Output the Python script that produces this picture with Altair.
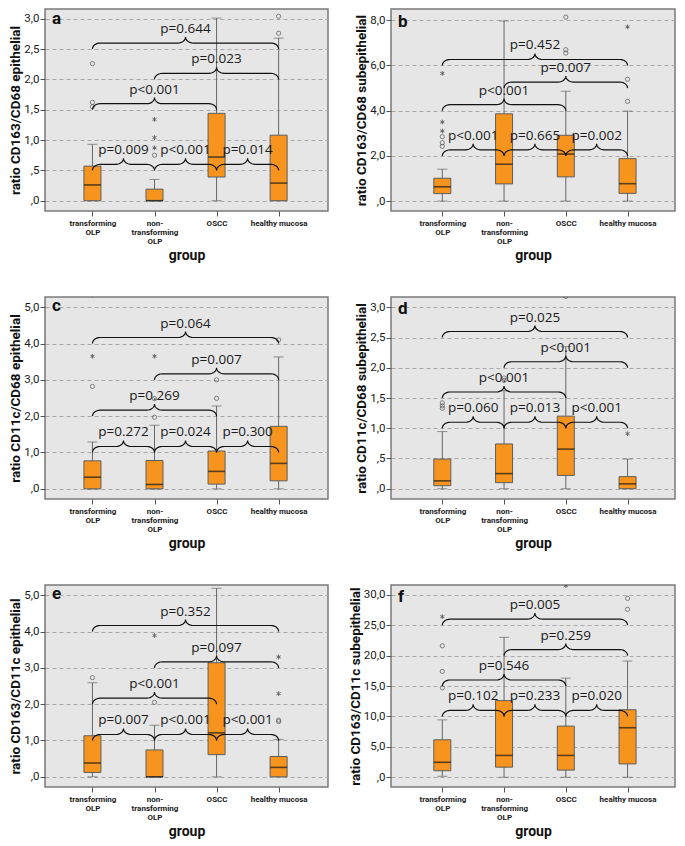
import math
import altair as alt
import pandas as pd

# ---------------- shared categories ----------------
groups = ["transforming OLP", "non-transforming OLP", "OSCC", "healthy mucosa"]
group_label_lines = [["transforming", "OLP"], ["non-", "transforming", "OLP"], ["OSCC"], ["healthy mucosa"]]
group_pos = [0, 1, 2, 3]
x_title = "group"

# ---------------- panel a ----------------
a_letter = "a"
a_title = "ratio CD163/CD68 epithelial"
a_low = [0.0, 0.0, 0.0, 0.0]
a_q1 = [0.0, 0.0, 0.39, 0.0]
a_med = [0.26, 0.0, 0.72, 0.29]
a_q3 = [0.57, 0.19, 1.44, 1.08]
a_high = [0.93, 0.35, 3.01, 2.68]
a_circle_g = [0, 0, 0, 1, 3, 3]
a_circle_v = [2.26, 1.62, 1.55, 0.75, 3.04, 2.76]
a_star_g = [1, 1, 1]
a_star_v = [1.34, 1.04, 0.87]
a_br_from = [0, 1, 0, 0, 1, 2]
a_br_to = [3, 3, 2, 1, 2, 3]
a_br_y = [2.5, 2.0, 1.5, 0.5, 0.5, 0.5]
a_br_p = ["p=0.644", "p=0.023", "p<0.001", "p=0.009", "p<0.001", "p=0.014"]
a_ticks = [0, 0.5, 1.0, 1.5, 2.0, 2.5, 3.0]

# ---------------- panel b ----------------
b_letter = "b"
b_title = "ratio CD163/CD68 subepithelial"
b_low = [0.0, 0.0, 0.0, 0.0]
b_q1 = [0.33, 0.76, 1.07, 0.34]
b_med = [0.63, 1.63, 2.08, 0.77]
b_q3 = [1.01, 3.86, 2.91, 1.88]
b_high = [1.41, 7.97, 4.86, 3.98]
b_circle_g = [0, 0, 0, 2, 2, 2, 3, 3]
b_circle_v = [2.85, 2.58, 2.42, 8.14, 6.7, 6.55, 5.39, 4.41]
b_star_g = [0, 0, 0, 3]
b_star_v = [5.65, 3.5, 3.1, 7.71]
b_br_from = [0, 1, 0, 0, 1, 2]
b_br_to = [3, 3, 2, 1, 2, 3]
b_br_y = [6.0, 5.0, 4.0, 2.0, 2.0, 2.0]
b_br_p = ["p=0.452", "p=0.007", "p<0.001", "p<0.001", "p=0.665", "p=0.002"]
b_ticks = [0, 2, 4, 6, 8]

# ---------------- panel c ----------------
c_letter = "c"
c_title = "ratio CD11c/CD68 epithelial"
c_low = [0.0, 0.0, 0.0, 0.0]
c_q1 = [0.0, 0.0, 0.13, 0.22]
c_med = [0.32, 0.12, 0.48, 0.70]
c_q3 = [0.77, 0.78, 1.04, 1.72]
c_high = [1.29, 1.75, 2.28, 3.63]
c_circle_g = [0, 1, 1, 2, 2, 3]
c_circle_v = [2.82, 2.48, 1.97, 3.0, 2.49, 4.1]
c_star_g = [0, 0, 1]
c_star_v = [5.33, 3.65, 3.65]
c_br_from = [0, 1, 0, 0, 1, 2]
c_br_to = [3, 3, 2, 1, 2, 3]
c_br_y = [4.0, 3.0, 2.0, 1.0, 1.0, 1.0]
c_br_p = ["p=0.064", "p=0.007", "p=0.269", "p=0.272", "p=0.024", "p=0.300"]
c_ticks = [0, 1, 2, 3, 4, 5]

# ---------------- panel d ----------------
d_letter = "d"
d_title = "ratio CD11c/CD68 subepithelial"
d_low = [0.0, 0.0, 0.0, 0.0]
d_q1 = [0.05, 0.10, 0.22, 0.0]
d_med = [0.13, 0.25, 0.655, 0.08]
d_q3 = [0.49, 0.74, 1.20, 0.20]
d_high = [0.945, 1.62, 2.35, 0.49]
d_circle_g = [0, 0, 0, 1, 1, 2]
d_circle_v = [1.42, 1.37, 1.33, 1.83, 1.79, 3.18]
d_star_g = [3]
d_star_v = [0.91]
d_br_from = [0, 1, 0, 0, 1, 2]
d_br_to = [3, 3, 2, 1, 2, 3]
d_br_y = [2.5, 2.0, 1.5, 1.0, 1.0, 1.0]
d_br_p = ["p=0.025", "p<0.001", "p<0.001", "p=0.060", "p=0.013", "p<0.001"]
d_ticks = [0, 0.5, 1.0, 1.5, 2.0, 2.5, 3.0]

# ---------------- panel e ----------------
e_letter = "e"
e_title = "ratio CD163/CD11c epithelial"
e_low = [0.0, 0.0, 0.0, 0.0]
e_q1 = [0.12, 0.0, 0.61, 0.0]
e_med = [0.38, 0.0, 1.21, 0.26]
e_q3 = [1.13, 0.74, 3.14, 0.56]
e_high = [2.59, 1.42, 5.19, 1.03]
e_circle_g = [0, 1, 3, 3]
e_circle_v = [2.73, 2.05, 1.56, 1.52]
e_star_g = [1, 3, 3]
e_star_v = [3.89, 3.30, 2.29]
e_br_from = [0, 1, 0, 0, 1, 2]
e_br_to = [3, 3, 2, 1, 2, 3]
e_br_y = [4.0, 3.0, 2.0, 1.0, 1.0, 1.0]
e_br_p = ["p=0.352", "p=0.097", "p<0.001", "p=0.007", "p<0.001", "p<0.001"]
e_ticks = [0, 1, 2, 3, 4, 5]

# ---------------- panel f ----------------
f_letter = "f"
f_title = "ratio CD163/CD11c subepithelial"
f_low = [0.16, 0.0, 0.0, 0.0]
f_q1 = [1.07, 1.66, 1.18, 2.2]
f_med = [2.46, 3.59, 3.59, 8.14]
f_q3 = [6.16, 12.6, 8.41, 11.1]
f_high = [9.43, 23.0, 16.3, 19.1]
f_circle_g = [0, 0, 0, 3, 3]
f_circle_v = [21.6, 17.4, 14.7, 29.4, 27.6]
f_star_g = [0, 2]
f_star_v = [26.4, 31.5]
f_br_from = [0, 1, 0, 0, 1, 2]
f_br_to = [3, 3, 2, 1, 2, 3]
f_br_y = [25, 20, 15, 10, 10, 10]
f_br_p = ["p=0.005", "p=0.259", "p=0.546", "p=0.102", "p=0.233", "p=0.020"]
f_ticks = [0, 5, 10, 15, 20, 25, 30]

# ---------------- styling ----------------
BOX_FILL = "#F7941E"
BOX_STROKE = "#5e5e5e"
WHISKER = "#666666"
STAR = "M0,-1L0,1M-0.87,-0.5L0.87,0.5M-0.87,0.5L0.87,-0.5"

Y_LABEL_EXPR = ("datum.value < 1 ? replace(format(datum.value, '.1f'), '0.', ',') "
                ": replace(format(datum.value, '.1f'), '.', ',')")
X_LABEL_EXPR = "[" + ",".join("[" + ",".join("'" + s + "'" for s in lines) + "]"
                              for lines in group_label_lines) + "][datum.value]"


def panel(letter, ytitle, low, q1, med, q3, high, cg, cv, sg, sv,
          bf, bt, by, bp, ticks, ydom, xdom, width, height, letter_y):
    xs = alt.Scale(domain=xdom, nice=False, zero=False)
    ys = alt.Scale(domain=ydom, nice=False, zero=False)
    xax = alt.Axis(values=group_pos, labelExpr=X_LABEL_EXPR, labelOverlap=False,
                   labelFlush=False, grid=False)
    yax = alt.Axis(values=ticks, labelExpr=Y_LABEL_EXPR, labelOverlap=False,
                   labelFlush=False, grid=True)

    def X(f):
        return alt.X(f, type="quantitative", scale=xs, axis=xax, title=x_title)

    def Y(f):
        return alt.Y(f, type="quantitative", scale=ys, axis=yax, title=ytitle)

    box = pd.DataFrame({"g": group_pos, "low": low, "q1": q1, "med": med,
                        "q3": q3, "high": high})
    caps = pd.DataFrame({"g": group_pos * 2, "v": list(low) + list(high)})
    circ = pd.DataFrame({"g": cg, "v": cv})
    star = pd.DataFrame({"g": sg, "v": sv})

    # brace outlines, generated from (from, to, level) in data units
    kx = (xdom[1] - xdom[0]) / width
    ky = (ydom[1] - ydom[0]) / height
    rx, ry, n = 8.0, 6.0, 8
    rows = []
    for bid, (i, j, yv) in enumerate(zip(bf, bt, by)):
        xm = (i + j) / 2.0
        pts = []
        ts = [k * (math.pi / 2) / (n - 1) for k in range(n)]
        for t in ts:
            pts.append((i + rx * kx * (1 - math.cos(t)), yv + ry * ky * math.sin(t)))
        for t in ts:
            pts.append((xm - rx * kx + rx * kx * math.sin(t),
                        yv + ry * ky + ry * ky * (1 - math.cos(t))))
        for t in reversed(ts):
            pts.append((xm + rx * kx - rx * kx * math.sin(t),
                        yv + ry * ky + ry * ky * (1 - math.cos(t))))
        for t in reversed(ts):
            pts.append((j - rx * kx * (1 - math.cos(t)), yv + ry * ky * math.sin(t)))
        for k, (px, py) in enumerate(pts):
            rows.append({"id": bid, "k": k, "x": px, "y": py})
    braces = pd.DataFrame(rows)
    ptext = pd.DataFrame({"xm": [(i + j) / 2.0 for i, j in zip(bf, bt)], "y": by, "p": bp})
    lett = pd.DataFrame({"t": [letter]})

    whisk = alt.Chart(box).mark_rule(color=WHISKER, strokeWidth=1).encode(
        x=X("g"), y=Y("low"), y2="high")
    capl = alt.Chart(caps).mark_tick(orient="horizontal", size=10, thickness=1,
                                     color=WHISKER).encode(x=X("g"), y=Y("v"))
    bars = alt.Chart(box).mark_bar(size=17, color=BOX_FILL, stroke=BOX_STROKE,
                                   strokeWidth=1).encode(x=X("g"), y=Y("q1"), y2="q3")
    meds = alt.Chart(box).mark_tick(orient="horizontal", size=17, thickness=1.6,
                                    color="#1a1a1a").encode(x=X("g"), y=Y("med"))
    layers = [whisk, capl, bars, meds]
    if len(cg):
        layers.append(alt.Chart(circ).mark_point(shape="circle", filled=False, size=18,
                                                 color="#444444", strokeWidth=0.9,
                                                 clip=True).encode(x=X("g"), y=Y("v")))
    if len(sg):
        layers.append(alt.Chart(star).mark_point(shape=STAR, filled=False, size=22,
                                                 color="#333333", strokeWidth=1,
                                                 clip=True).encode(x=X("g"), y=Y("v")))
    layers.append(alt.Chart(braces).mark_line(color="#111111", strokeWidth=1.2).encode(
        x=X("x"), y=Y("y"), detail="id:N", order="k:Q"))
    layers.append(alt.Chart(ptext).mark_text(font="Open Sans", fontSize=13.5, color="#1a1a1a",
                                             baseline="alphabetic", dy=-16).encode(
        x=X("xm"), y=Y("y"), text="p:N"))
    layers.append(alt.Chart(lett).mark_text(font="Roboto", fontSize=17, fontWeight="bold",
                                            align="left", baseline="alphabetic",
                                            color="#111111").encode(
        x=alt.value(7), y=alt.value(letter_y), text="t:N"))
    return alt.layer(*layers).properties(width=width, height=height)


H = 202
WL = 283
WR = 284
XL = [-0.684, 3.715]
XR = [-0.75, 3.6875]

pa = panel(a_letter, a_title, a_low, a_q1, a_med, a_q3, a_high, a_circle_g, a_circle_v,
           a_star_g, a_star_v, a_br_from, a_br_to, a_br_y, a_br_p, a_ticks,
           [-0.17, 3.16], XL, WL, H, 15)
pb = panel(b_letter, b_title, b_low, b_q1, b_med, b_q3, b_high, b_circle_g, b_circle_v,
           b_star_g, b_star_v, b_br_from, b_br_to, b_br_y, b_br_p, b_ticks,
           [-0.44, 8.5], XR, WR, H, 18)
pc = panel(c_letter, c_title, c_low, c_q1, c_med, c_q3, c_high, c_circle_g, c_circle_v,
           c_star_g, c_star_v, c_br_from, c_br_to, c_br_y, c_br_p, c_ticks,
           [-0.28, 5.28], XL, WL, H, 14)
pd_ = panel(d_letter, d_title, d_low, d_q1, d_med, d_q3, d_high, d_circle_g, d_circle_v,
            d_star_g, d_star_v, d_br_from, d_br_to, d_br_y, d_br_p, d_ticks,
            [-0.17, 3.17], XR, WR, H, 17)
pe = panel(e_letter, e_title, e_low, e_q1, e_med, e_q3, e_high, e_circle_g, e_circle_v,
           e_star_g, e_star_v, e_br_from, e_br_to, e_br_y, e_br_p, e_ticks,
           [-0.28, 5.28], XL, WL, H, 14)
pf = panel(f_letter, f_title, f_low, f_q1, f_med, f_q3, f_high, f_circle_g, f_circle_v,
           f_star_g, f_star_v, f_br_from, f_br_to, f_br_y, f_br_p, f_ticks,
           [-1.6, 31.6], XR, WR, H, 17)

chart = alt.concat(pa, pb, pc, pd_, pe, pf, columns=2, bounds="flush",
                   spacing={"row": 86, "column": 63}).properties(
    padding={"left": 0, "right": 0, "top": 0, "bottom": 0}
).configure_view(
    fill="#e6e6e6", stroke="#7a7a7a", strokeWidth=1.5
).configure_axisY(
    labelFont="Roboto", labelFontSize=11.5, labelColor="#1a1a1a", labelPadding=1,
    tickColor="#555555", tickSize=5, domain=False,
    gridColor="#a8a8a8", gridDash=[4, 3], gridWidth=1,
    titleFont="Roboto", titleFontSize=13.5, titleFontWeight="bold", titleColor="#111111",
    titlePadding=1
).configure_axisX(
    labelFont="Roboto", labelFontSize=8, labelFontWeight="bold", labelLineHeight=9,
    labelColor="#1a1a1a", labelPadding=3, tickColor="#555555", tickSize=5, domain=False,
    titleFont="Roboto", titleFontSize=14, titleFontWeight="bold", titleColor="#111111",
    titleY=48, titleBaseline="alphabetic"
)

chart.save("out.html", embed_options={"renderer": "svg", "actions": False})
